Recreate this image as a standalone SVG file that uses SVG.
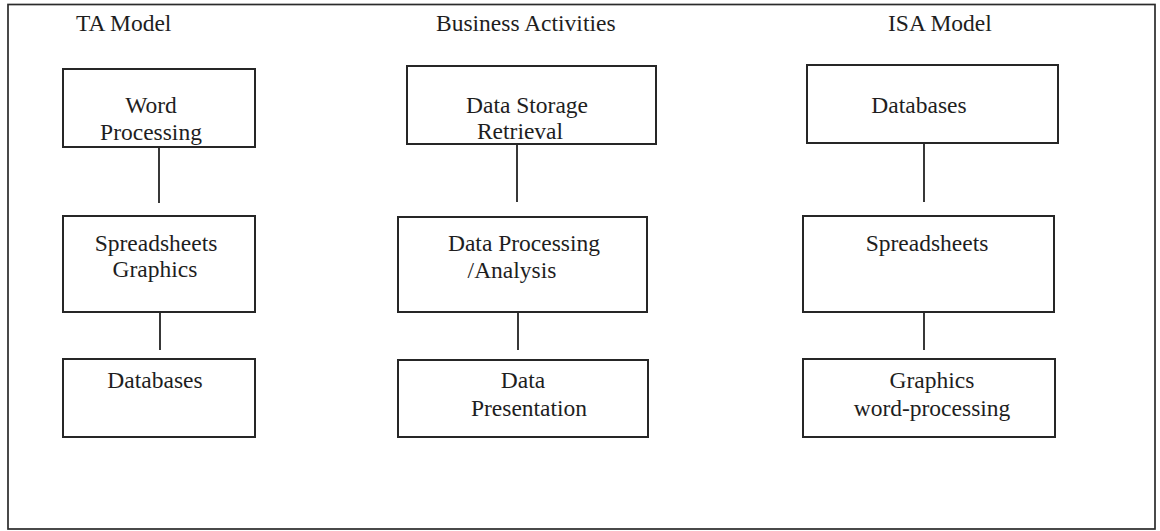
<svg xmlns="http://www.w3.org/2000/svg" width="1160" height="531" viewBox="0 0 1160 531">
  <style>
    .frame { fill: none; stroke: #2b2b2b; stroke-width: 1.7; }
    .box { fill: #ffffff; stroke: #262626; stroke-width: 2; }
    .conn { stroke: #222222; stroke-width: 1.8; fill: none; }
    .t { font-family: "Liberation Serif", "Times New Roman", serif; font-size: 23.5px; fill: #1e1e1e; }
    .c { text-anchor: middle; }
  </style>
  <rect x="0" y="0" width="1160" height="531" fill="#ffffff"/>
  <rect class="frame" x="8" y="4.5" width="1147" height="524.5"/>

  <g id="headers">
    <text class="t" x="76" y="31">TA Model</text>
    <text class="t" x="436" y="31">Business Activities</text>
    <text class="t" x="888" y="31">ISA Model</text>
  </g>

  <g id="connectors">
    <line class="conn" x1="159" y1="147" x2="159" y2="203"/>
    <line class="conn" x1="160" y1="312" x2="160" y2="350"/>
    <line class="conn" x1="517" y1="144" x2="517" y2="202"/>
    <line class="conn" x1="518" y1="312" x2="518" y2="350"/>
    <line class="conn" x1="924" y1="143" x2="924" y2="202"/>
    <line class="conn" x1="924" y1="312" x2="924" y2="350"/>
  </g>

  <g id="ta-word-processing">
    <rect class="box" x="63" y="69" width="192" height="78"/>
    <text class="t c" x="151" y="113">Word</text>
    <text class="t c" x="151" y="140">Processing</text>
  </g>
  <g id="ta-spreadsheets-graphics">
    <rect class="box" x="63" y="216" width="192" height="96"/>
    <text class="t c" x="156" y="251">Spreadsheets</text>
    <text class="t c" x="155" y="277">Graphics</text>
  </g>
  <g id="ta-databases">
    <rect class="box" x="63" y="359" width="192" height="78"/>
    <text class="t c" x="155" y="388">Databases</text>
  </g>

  <g id="ba-data-storage">
    <rect class="box" x="407" y="66" width="249" height="78"/>
    <text class="t c" x="527" y="113">Data Storage</text>
    <text class="t c" x="520" y="139">Retrieval</text>
  </g>
  <g id="ba-data-processing">
    <rect class="box" x="398" y="217" width="249" height="95"/>
    <text class="t c" x="524" y="251">Data Processing</text>
    <text class="t c" x="512" y="278">/Analysis</text>
  </g>
  <g id="ba-data-presentation">
    <rect class="box" x="398" y="360" width="250" height="77"/>
    <text class="t c" x="523" y="388">Data</text>
    <text class="t c" x="529" y="416">Presentation</text>
  </g>

  <g id="isa-databases">
    <rect class="box" x="807" y="65" width="251" height="78"/>
    <text class="t c" x="919" y="113">Databases</text>
  </g>
  <g id="isa-spreadsheets">
    <rect class="box" x="803" y="216" width="251" height="96"/>
    <text class="t c" x="927" y="251">Spreadsheets</text>
  </g>
  <g id="isa-graphics-word">
    <rect class="box" x="803" y="359" width="252" height="78"/>
    <text class="t c" x="932" y="388">Graphics</text>
    <text class="t c" x="932" y="416">word-processing</text>
  </g>
</svg>
